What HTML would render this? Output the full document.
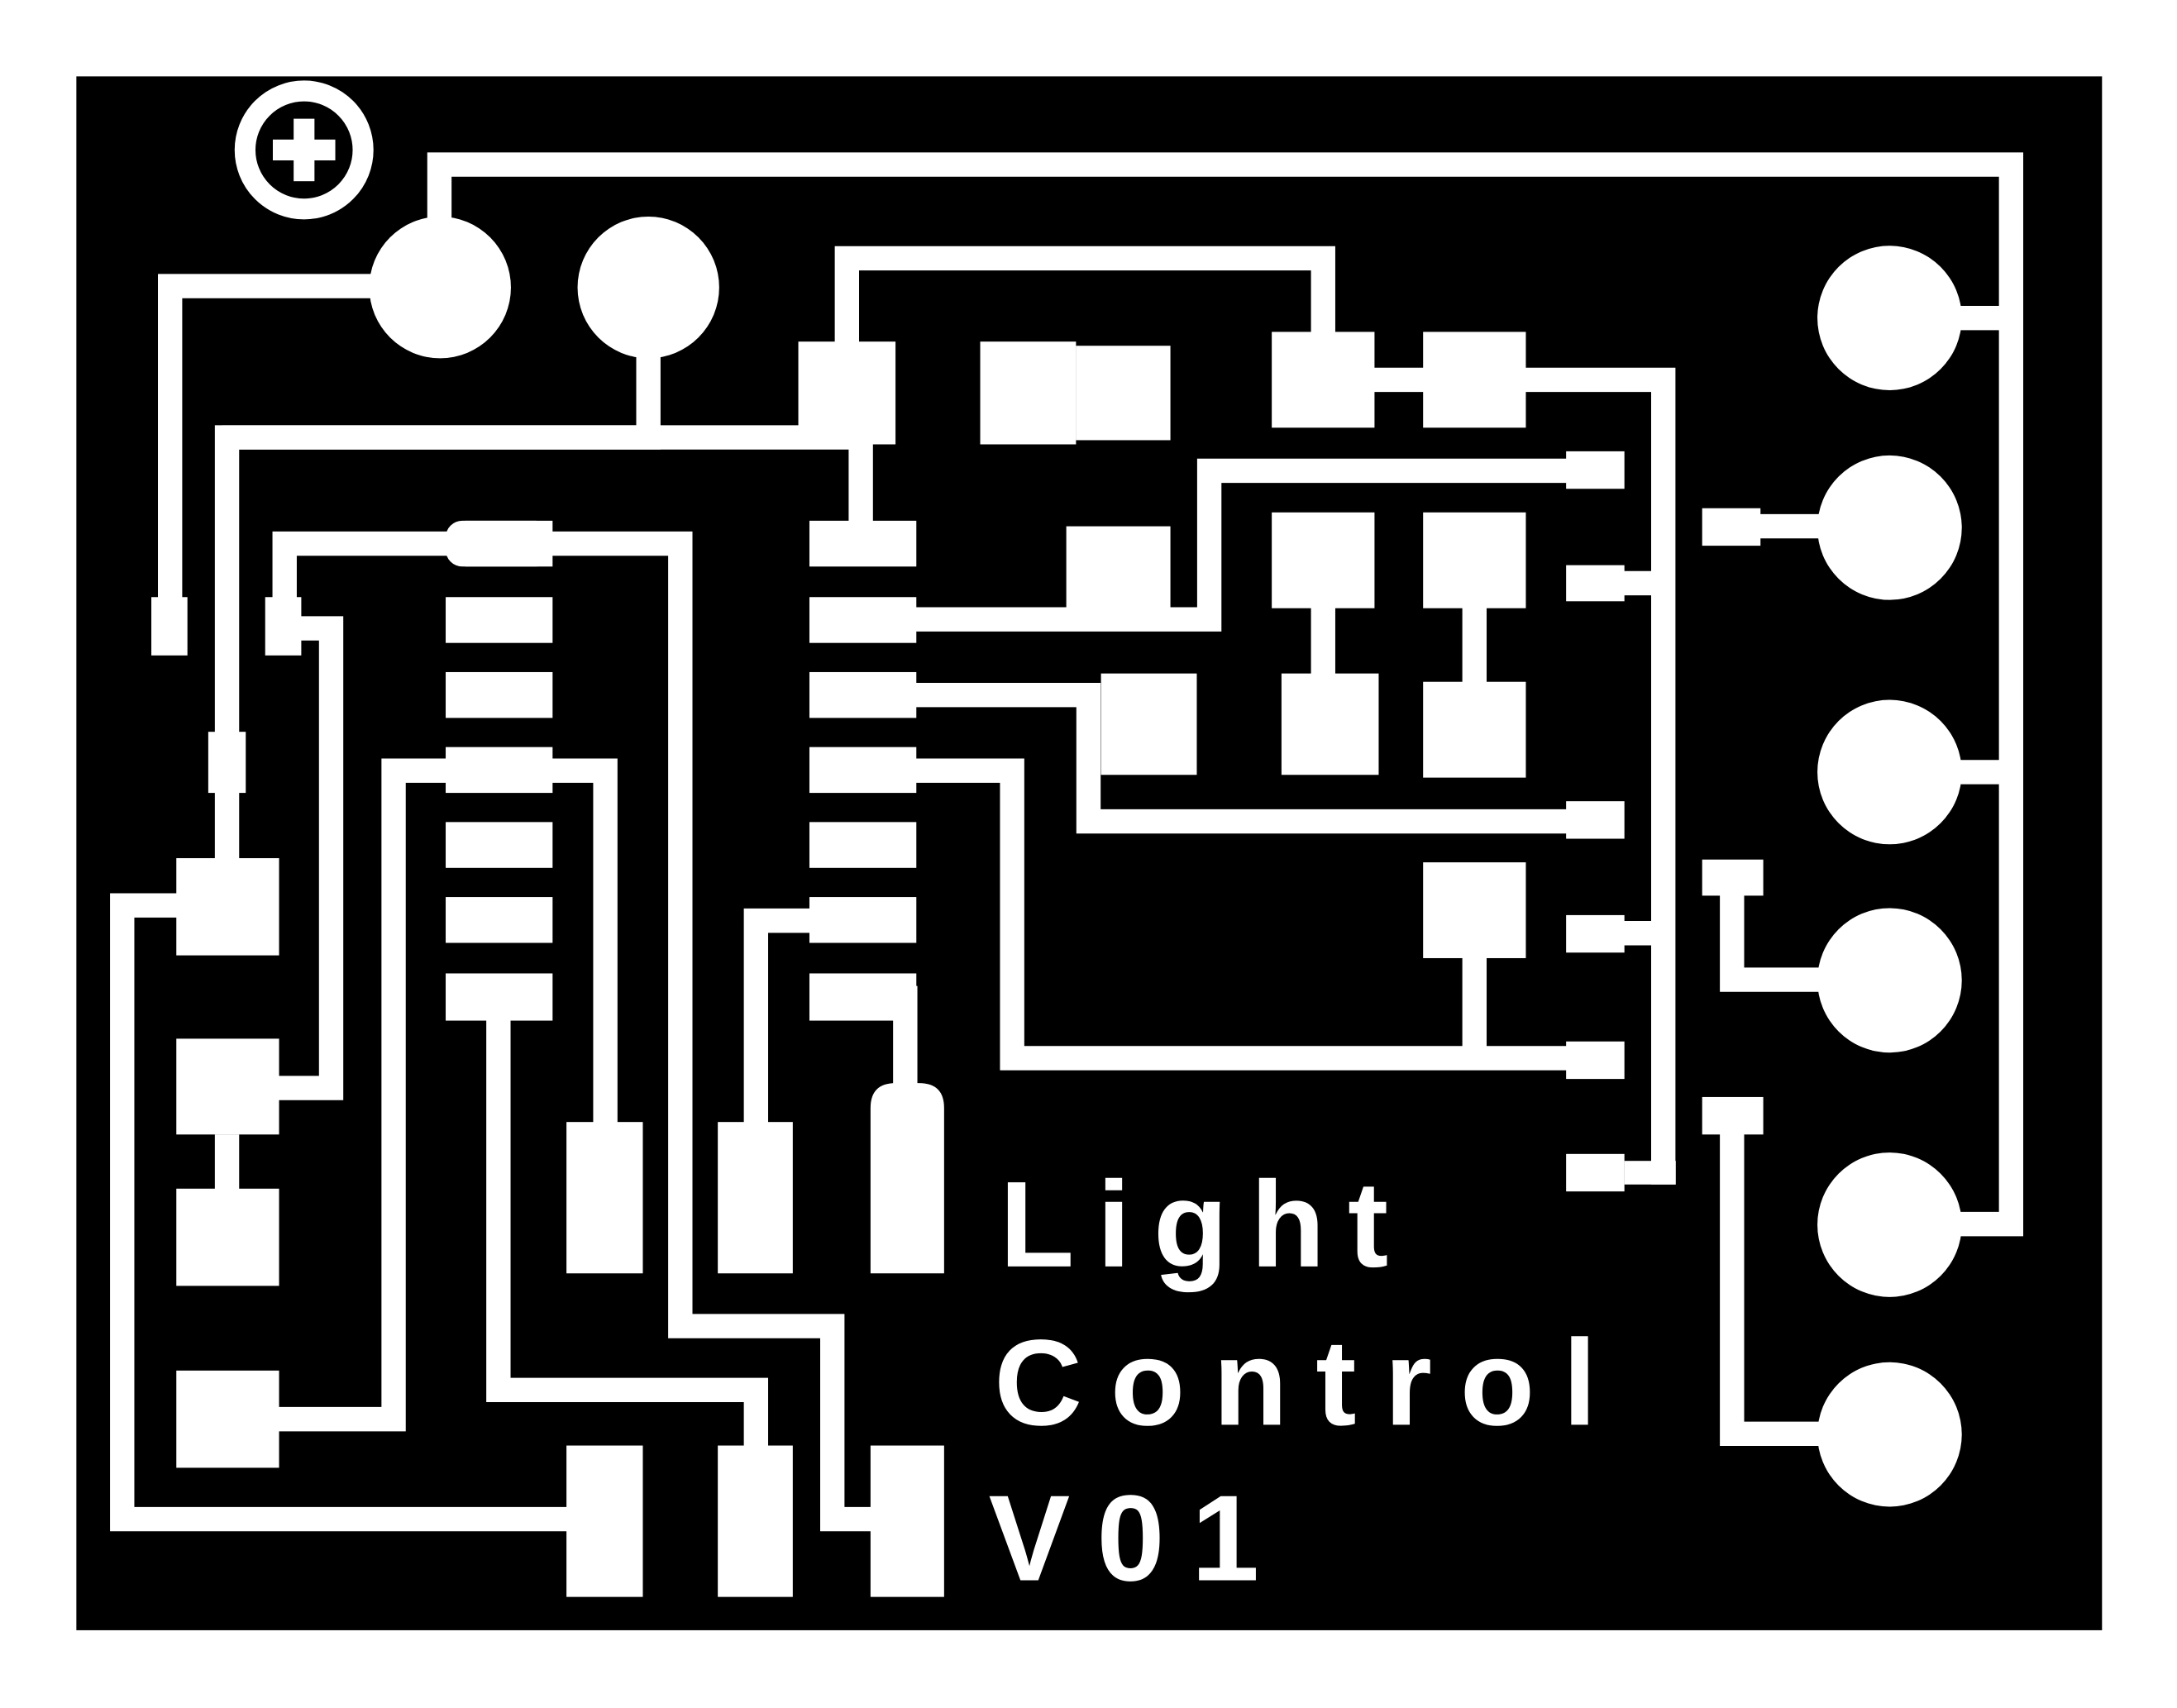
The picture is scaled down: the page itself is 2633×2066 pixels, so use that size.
<!DOCTYPE html>
<html><head><meta charset="utf-8"><style>
html,body{margin:0;padding:0;background:#fff;}
svg{display:block;}
</style></head><body>
<svg width="2633" height="2066" viewBox="0 0 1568 1230" preserveAspectRatio="none" xmlns="http://www.w3.org/2000/svg">
<rect x="0" y="0" width="1568" height="1230" fill="#fff"/>
<rect x="55" y="55" width="1459" height="1119" fill="#000"/>
<!-- ring mark -->
<circle cx="219" cy="108" r="42.5" fill="none" stroke="#fff" stroke-width="15"/>
<rect x="196.5" y="100.5" width="45" height="15" fill="#fff"/>
<rect x="211.5" y="85.5" width="15" height="45" fill="#fff"/>
<g fill="#fff">
<circle cx="317" cy="207" r="51"/>
<circle cx="467" cy="207" r="51"/>
<circle cx="1361" cy="229" r="52"/>
<circle cx="1361" cy="380" r="52"/>
<circle cx="1361" cy="556" r="52"/>
<circle cx="1361" cy="706" r="52"/>
<circle cx="1361" cy="882" r="52"/>
<circle cx="1361" cy="1033" r="52"/>
</g>
<g fill="none" stroke="#fff" stroke-width="17.5" stroke-linejoin="miter" stroke-linecap="butt">
<polyline points="316.5,165 316.5,118.5 1448.5,118.5 1448.5,881.5 1400,881.5"/>
<polyline points="1400,229 1448,229"/>
<polyline points="1400,556 1448,556"/>
<polyline points="280,206 122.5,206 122.5,440"/>
<polyline points="467,250 467,315 163.5,315 163.5,625"/>
<polyline points="160,315 620,315 620,380"/>
<polyline points="610,250 610,186 953,186 953,245"/>
<polyline points="985,273.5 1198,273.5 1198,853"/>
<polyline points="1165,420 1198,420"/>
<polyline points="1165,672 1198,672"/>
<polyline points="655,446 871,446 871,339 1135,339"/>
<polyline points="655,500.5 784,500.5 784,591.5 1135,591.5"/>
<polyline points="655,555 729,555 729,762 1135,762"/>
<polyline points="1062,680 1062,762"/>
<polyline points="205,440 205,391.5 490,391.5 490,955 599.5,955 599.5,1094 635,1094"/>
<polyline points="212,452.5 238.5,452.5 238.5,783.5 195,783.5"/>
<polyline points="195,1022 283.5,1022 283.5,555 330,555"/>
<polyline points="390,555 436,555 436,815"/>
<polyline points="359,725 359,1001 544.5,1001 544.5,1048"/>
<polyline points="590,663 544.5,663 544.5,815"/>
<polyline points="652,710 652,790"/>
<polyline points="135,652 88,652 88,1094 415,1094"/>
<polyline points="1260,379 1320,379"/>
<polyline points="1247.5,640 1247.5,705.5 1320,705.5"/>
<polyline points="1247.5,810 1247.5,1032.5 1320,1032.5"/>
<polyline points="953,430 953,490"/>
<polyline points="1062,430 1062,495"/>
<polyline points="163.5,817 163.5,860"/>
</g>
<g fill="#fff">
<!-- blocks top -->
<rect x="575" y="246" width="70" height="74"/>
<rect x="706" y="246" width="69" height="74"/>
<rect x="775" y="249" width="68" height="68"/>
<rect x="916" y="239" width="74" height="69"/>
<rect x="1025" y="239" width="74" height="69"/>
<rect x="768" y="379" width="75" height="60"/>
<rect x="916" y="369" width="74" height="69"/>
<rect x="923" y="485" width="70" height="73"/>
<rect x="1025" y="369" width="74" height="69"/>
<rect x="1025" y="491" width="74" height="69"/>
<rect x="793" y="485" width="69" height="73"/>
<rect x="1025" y="621" width="74" height="69"/>
<!-- right connector pads -->
<rect x="1128" y="325" width="42" height="27"/>
<rect x="1128" y="407" width="42" height="26"/>
<rect x="1128" y="577" width="42" height="27"/>
<rect x="1128" y="659" width="42" height="27"/>
<rect x="1128" y="750" width="42" height="27"/>
<rect x="1128" y="831" width="42" height="27"/>
<rect x="1170" y="836" width="37" height="17"/>
<!-- IC pads -->
<rect x="583" y="375" width="77" height="33"/>
<rect x="583" y="430" width="77" height="33"/>
<rect x="583" y="484" width="77" height="33"/>
<rect x="583" y="538" width="77" height="33"/>
<rect x="583" y="592" width="77" height="33"/>
<rect x="583" y="646" width="77" height="33"/>
<rect x="583" y="701" width="77" height="34"/>
<rect x="321" y="375" width="77" height="33" rx="12"/>
<rect x="335" y="375" width="63" height="33"/>
<rect x="321" y="430" width="77" height="33"/>
<rect x="321" y="484" width="77" height="33"/>
<rect x="321" y="538" width="77" height="33"/>
<rect x="321" y="592" width="77" height="33"/>
<rect x="321" y="646" width="77" height="33"/>
<rect x="321" y="701" width="77" height="34"/>
<!-- left pads -->
<rect x="109" y="430" width="26" height="42"/>
<rect x="191" y="430" width="26" height="42"/>
<rect x="150" y="527" width="27" height="44"/>
<rect x="127" y="618" width="74" height="70"/>
<rect x="127" y="748" width="74" height="69"/>
<rect x="127" y="856" width="74" height="70"/>
<rect x="127" y="987" width="74" height="70"/>
<!-- bottom pads -->
<rect x="408" y="808" width="55" height="109"/>
<rect x="517" y="808" width="54" height="109"/>
<path d="M627,917 L627,798 Q627,780 645,780 L662,780 Q680,780 680,798 L680,917 Z"/>
<rect x="408" y="1041" width="55" height="109"/>
<rect x="517" y="1041" width="54" height="109"/>
<rect x="627" y="1041" width="53" height="109"/>
<!-- right pins -->
<rect x="1226" y="366" width="42" height="27"/>
<rect x="1226" y="619" width="44" height="26"/>
<rect x="1226" y="790" width="44" height="27"/>
</g>
<g fill="#fff" font-family="'Liberation Sans', sans-serif" font-weight="bold" font-size="88">
<text x="720" y="912" textLength="280" lengthAdjust="spacing">Light</text>
<text x="716" y="1026" textLength="434" lengthAdjust="spacing">Control</text>
<text x="712" y="1138" textLength="195" lengthAdjust="spacing">V01</text>
</g>
</svg>
</body></html>
